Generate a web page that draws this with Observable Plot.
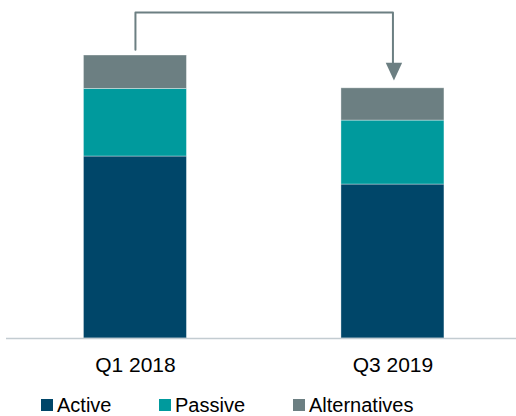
<!DOCTYPE html>
<html>
<head>
<meta charset="utf-8">
<script src="https://cdn.jsdelivr.net/npm/d3@7"></script>
<script src="https://cdn.jsdelivr.net/npm/@observablehq/plot@0.6"></script>
<style>
  html, body { margin: 0; padding: 0; background: #fff; overflow: hidden; }
  body { width: 516px; height: 416px; font-family: "Liberation Sans", Arial, sans-serif; }
  #legend { position: relative; height: 26px; font-size: 20px; color: #000; white-space: nowrap; }
  #legend .item { position: absolute; top: 3.6px; line-height: 22px; }
  #legend .sw { display: inline-block; width: 12px; height: 12px; margin-right: 4px; vertical-align: 1px; }
</style>
</head>
<body>
<div id="chart"></div>
<div id="legend"></div>
<script>
// Data (indexed: Q1 2018 total = 100)
const categories = ["Q1 2018", "Q3 2019"];
const series = ["Active", "Passive", "Alternatives"];
const active = [64.3, 54.4];
const passive = [23.9, 22.6];
const alternatives = [11.8, 11.4];

const colors = ["#004669", "#009a9d", "#6c7f82"];
const arrowColor = "#6c7f82";
const legendLeft = [41, 159, 293];

const seriesValues = [active, passive, alternatives];
const rows = categories.flatMap((c, i) =>
  series.map((s, j) => ({category: c, series: s, value: seriesValues[j][i]}))
);
const totals = categories.map((c, i) => active[i] + passive[i] + alternatives[i]);

// Arrow annotation connecting the two bar totals
const arrowTop = 115.2;
const startGap = 2.0;
const endGap = 2.8;
const arrowPath = [
  {x: categories[0], y: totals[0] + startGap},
  {x: categories[0], y: arrowTop},
  {x: categories[1], y: arrowTop},
  {x: categories[1], y: totals[1] + endGap + 5}
];
const arrowHead = [{x: categories[1], y: totals[1] + endGap}];
const headSymbol = {
  draw(ctx) {
    ctx.moveTo(-8.2, -17.7);
    ctx.lineTo(8.2, -17.7);
    ctx.lineTo(0, 0);
    ctx.closePath();
  }
};

const chart = Plot.plot({
  width: 516,
  height: 390,
  marginLeft: 6,
  marginRight: 0,
  marginTop: 0,
  marginBottom: 52,
  style: {fontFamily: "'Liberation Sans', Arial, sans-serif", fontSize: "21px", color: "#000", background: "#fff"},
  x: {domain: categories, paddingInner: 0.6, paddingOuter: 0.2903, align: 0.518, round: false,
      label: null, tickSize: 0, tickPadding: 19},
  y: {domain: [0, 100], range: [338, 55], axis: null},
  color: {domain: series, range: colors},
  marks: [
    Plot.barY(rows, {x: "category", y: "value", fill: "series", stroke: "#ffffff", strokeWidth: 0.8, strokeOpacity: 0.45}),
    Plot.ruleY([0], {stroke: "#c3ccd1", strokeWidth: 1.5}),
    Plot.line(arrowPath, {x: "x", y: "y", stroke: arrowColor, strokeWidth: 2}),
    Plot.dot(arrowHead, {x: "x", y: "y", symbol: headSymbol, fill: arrowColor, stroke: null, dx: 1})
  ]
});
document.getElementById("chart").appendChild(chart);

const legend = document.getElementById("legend");
series.forEach((s, i) => {
  const item = document.createElement("span");
  item.className = "item";
  item.style.left = legendLeft[i] + "px";
  const sw = document.createElement("span");
  sw.className = "sw";
  sw.style.background = colors[i];
  item.appendChild(sw);
  item.appendChild(document.createTextNode(s));
  legend.appendChild(item);
});
</script>
</body>
</html>
